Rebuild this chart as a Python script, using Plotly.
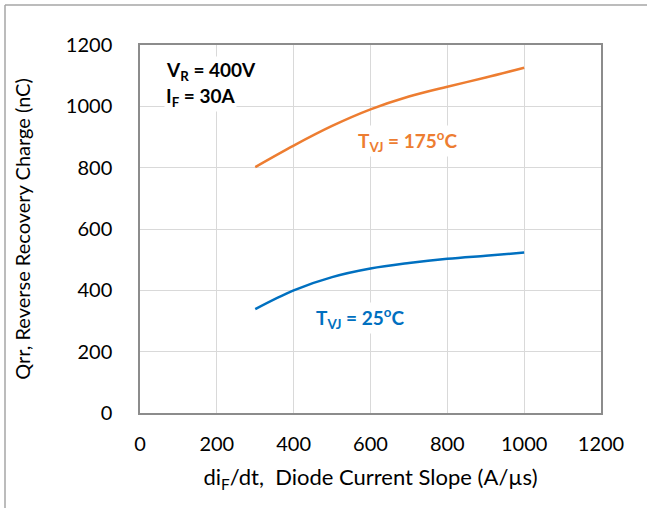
import plotly.graph_objects as go

# Data
didt = [300, 400, 500, 600, 700, 800, 900, 1000]
qrr_175 = [802, 872, 936, 990, 1032, 1064, 1094, 1126]
qrr_25 = [339, 400, 443, 471, 489, 503, 513, 523]

x_ticks = [0, 200, 400, 600, 800, 1000, 1200]
y_ticks = [0, 200, 400, 600, 800, 1000, 1200]

FONT = "Lato"
ORANGE = "#ED7D31"
BLUE = "#0070C0"

fig = go.Figure()
fig.add_trace(go.Scatter(x=didt, y=qrr_175, mode="lines",
                         line=dict(color=ORANGE, width=2.5, shape="spline", smoothing=1.0),
                         showlegend=False, hoverinfo="skip"))
fig.add_trace(go.Scatter(x=didt, y=qrr_25, mode="lines",
                         line=dict(color=BLUE, width=2.5, shape="spline", smoothing=1.0),
                         showlegend=False, hoverinfo="skip"))

L, R, T, B = 140, 46, 45, 95
W, H = 647, 508
pw, ph = W - L - R, H - T - B

def px(xp):
    return (xp - L) / pw

def py(yp):
    return (H - B - yp) / ph

axis_common = dict(
    showgrid=True, gridcolor="#d9d9d9", gridwidth=1.3,
    showline=True, linecolor="#8c8c8c", linewidth=1.5, mirror=True,
    zeroline=False, ticks="",
    tickfont=dict(family=FONT, size=20, color="#000000"),
)

fig.update_layout(
    width=W, height=H,
    margin=dict(l=L, r=R, t=T, b=B, pad=0),
    paper_bgcolor="white", plot_bgcolor="white",
    font=dict(family=FONT, color="#000000"),
    xaxis=dict(range=[0, 1200], tickvals=x_ticks, ticktext=[str(v) for v in x_ticks],
               ticklabelstandoff=12,
               title=dict(text="di<sub>F</sub>/dt,  Diode Current Slope (A/µs)",
                          font=dict(family=FONT, size=22, color="#000000"), standoff=16),
               **axis_common),
    yaxis=dict(range=[0, 1200], tickvals=y_ticks, ticktext=[str(v) for v in y_ticks],
               ticklabelstandoff=22,
               title=dict(text="Qrr, Reverse Recovery Charge (nC)",
                          font=dict(family=FONT, size=20, color="#000000"), standoff=30),
               **axis_common),
    shapes=[
        dict(type="line", xref="paper", yref="paper",
             x0=px(5), x1=px(W + 2), y0=py(5), y1=py(5),
             line=dict(color="#a6a6a6", width=1.5)),
        dict(type="line", xref="paper", yref="paper",
             x0=px(5), x1=px(5), y0=py(5), y1=py(H + 2),
             line=dict(color="#a6a6a6", width=1.5)),
    ],
    annotations=[
        dict(x=62, y=1114, xref="x", yref="y", xanchor="left", yanchor="middle",
             text="<b>V<sub>R</sub> = 400V</b>", showarrow=False, bgcolor="white",
             font=dict(family=FONT, size=19, color="#000000")),
        dict(x=62, y=1032, xref="x", yref="y", xanchor="left", yanchor="middle",
             text="<b>I<sub>F</sub> = 30A</b>", showarrow=False, bgcolor="white",
             font=dict(family=FONT, size=19, color="#000000")),
        dict(x=695, y=888, xref="x", yref="y", xanchor="center", yanchor="middle",
             text="<b>T<sub>VJ</sub> = 175<sup>o</sup>C</b>", showarrow=False,
             bgcolor="white",
             font=dict(family=FONT, size=19, color=ORANGE)),
        dict(x=573, y=310, xref="x", yref="y", xanchor="center", yanchor="middle",
             text="<b>T<sub>VJ</sub> = 25<sup>o</sup>C</b>", showarrow=False,
             bgcolor="white",
             font=dict(family=FONT, size=19, color=BLUE)),
    ],
)

fig.write_html("out.html")
